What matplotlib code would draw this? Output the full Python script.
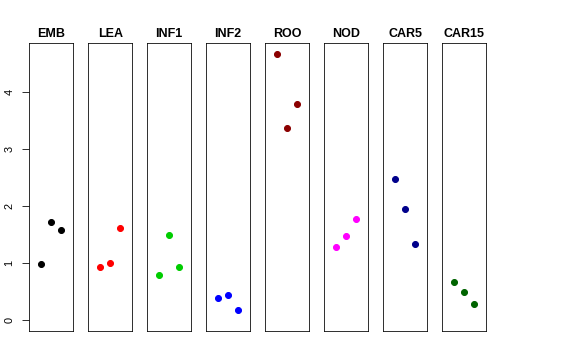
import matplotlib
matplotlib.use("Agg")
import matplotlib.pyplot as plt

categories = ["EMB", "LEA", "INF1", "INF2", "ROO", "NOD", "CAR5", "CAR15"]
values = [
    [0.99, 1.72, 1.59],
    [0.93, 1.01, 1.61],
    [0.79, 1.49, 0.93],
    [0.38, 0.44, 0.18],
    [4.68, 3.37, 3.80],
    [1.28, 1.47, 1.78],
    [2.47, 1.95, 1.34],
    [0.67, 0.50, 0.29],
]
colors = ["black", "red", "#00CD00", "blue", "#8B0000", "magenta", "#00008B", "#006400"]
yticks = [0, 1, 2, 3, 4]
xpos = [1, 2, 3]

plt.rcParams['font.family'] = ['Liberation Sans', 'DejaVu Sans']
W, H = 576, 360
fig = plt.figure(figsize=(W / 72, H / 72), dpi=72)

ymax = max(max(v) for v in values)
ylo, yhi = 0, ymax
pad = (yhi - ylo) * 0.04

left0, step, pw = 29, 59, 44.3
top, bottom = 43, 330.7
for i, (cat, vals, col) in enumerate(zip(categories, values, colors)):
    ax = fig.add_axes([(left0 + i * step) / W, (H - bottom) / H, pw / W, (bottom - top) / H])
    ax.plot(xpos, vals, 'o', color=col, ms=6, mec=col)
    ax.set_xlim(0 - 0.16, 4 + 0.16)
    ax.set_ylim(ylo - pad, yhi + pad)
    ax.set_xticks([])
    for s in ax.spines.values():
        s.set_linewidth(0.8)
        s.set_color('black')
    ax.set_title(cat, fontsize=12.5, fontweight='bold', pad=6)
    if i == 0:
        ax.set_yticks(yticks)
        ax.set_yticklabels([str(t) for t in yticks], rotation=90, va='center', fontsize=11)
        ax.tick_params(axis='y', length=7.5, width=0.8, pad=7)
    else:
        ax.set_yticks([])

fig.savefig("out.png", dpi=72)
